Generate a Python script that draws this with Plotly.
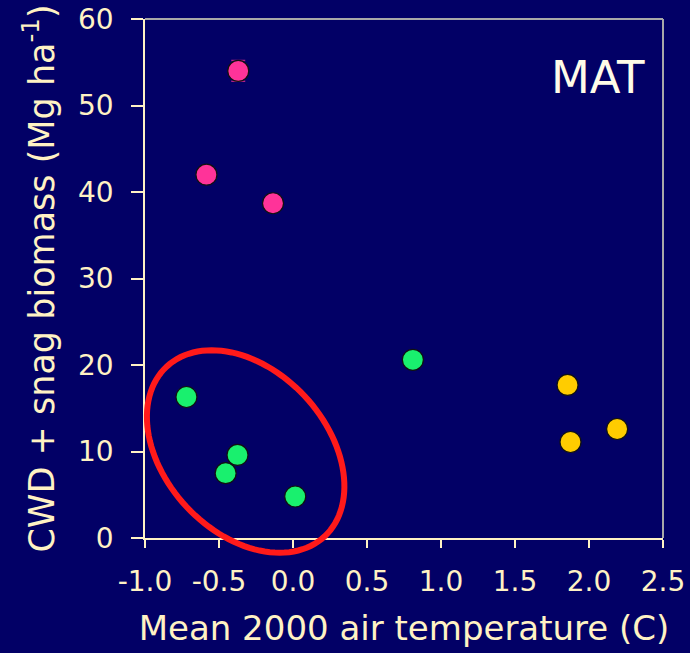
import numpy as np
import plotly.graph_objects as go

# Site groups: mean 2000 air temperature (C) vs CWD + snag biomass (Mg/ha)
pink_x = [-0.37, -0.585, -0.135]
pink_y = [54.0, 42.0, 38.7]
pink_err = [1.2, 0.0, 0.0]

green_x = [-0.72, -0.375, -0.455, 0.015, 0.81]
green_y = [16.3, 9.6, 7.5, 4.8, 20.6]

yellow_x = [1.855, 1.875, 2.19]
yellow_y = [17.7, 11.1, 12.6]

x_ticks = [-1.0, -0.5, 0.0, 0.5, 1.0, 1.5, 2.0, 2.5]
y_ticks = [0, 10, 20, 30, 40, 50, 60]

W, H = 690, 653
ML, MR, MT, MB = 144.5, 27, 19, 115
X_RANGE = [-1.0, 2.5]
Y_RANGE = [0, 60]

BG = "#020066"
CREAM = "#fff2c4"
FONT = "DejaVu Sans"

fig = go.Figure()

def add_group(xs, ys, color, err=None):
    fig.add_trace(go.Scatter(
        x=xs, y=ys, mode="markers",
        marker=dict(size=21, color=color, line=dict(color="#111111", width=1.2)),
        error_y=(dict(type="data", array=err, visible=True, color="#b0208a",
                      thickness=1.5, width=7) if err else None),
        showlegend=False,
    ))

add_group(pink_x, pink_y, "#ff3399", pink_err)
add_group(green_x, green_y, "#19f06e")
add_group(yellow_x, yellow_y, "#ffcc00")

# Tilted ellipse around the cool green sites, built in screen pixels and
# expressed in paper units so it may run past the x axis without clipping
plot_w = W - ML - MR
plot_h = H - MT - MB
cx, cy = -0.32, 10.0
cx_p = (cx - X_RANGE[0]) / (X_RANGE[1] - X_RANGE[0])
cy_p = (cy - Y_RANGE[0]) / (Y_RANGE[1] - Y_RANGE[0])
a_px, b_px, ang = 116.0, 81.0, np.deg2rad(-47)
t = np.linspace(0, 2 * np.pi, 121)
ex = a_px * np.cos(t) * np.cos(ang) - b_px * np.sin(t) * np.sin(ang)
ey = a_px * np.cos(t) * np.sin(ang) + b_px * np.sin(t) * np.cos(ang)
xs = cx_p + ex / plot_w
ys = cy_p + ey / plot_h
path = "M " + " L ".join(f"{x:.5f},{y:.5f}" for x, y in zip(xs, ys)) + " Z"
fig.add_shape(type="path", path=path, xref="paper", yref="paper",
              line=dict(color="#ff1a1a", width=6), layer="above")

# Grey frame on the top and right sides of the plot area
fig.add_shape(type="line", xref="paper", yref="paper", x0=0, x1=1, y0=1, y1=1,
              line=dict(color="#a8a8a8", width=2))
fig.add_shape(type="line", xref="paper", yref="paper", x0=1, x1=1, y0=0, y1=1,
              line=dict(color="#a8a8a8", width=2))

fig.add_annotation(text="MAT", xref="paper", yref="paper", x=0.875, y=0.887,
                   xanchor="center", yanchor="middle",
                   showarrow=False, font=dict(family=FONT, size=45, color="#fffbe8"))

fig.update_xaxes(
    range=X_RANGE, tickvals=x_ticks, ticktext=[f"{v:.1f}" for v in x_ticks],
    showline=True, linecolor=CREAM, linewidth=1.5,
    ticks="outside", ticklen=8, tickcolor=CREAM, tickwidth=1.5,
    showgrid=False, zeroline=False,
    tickfont=dict(family=FONT, size=28, color=CREAM), ticklabelstandoff=10,
    title=dict(text="Mean 2000 air temperature (C)", standoff=19,
               font=dict(family=FONT, size=34, color=CREAM)),
)
fig.update_yaxes(
    range=Y_RANGE, tickvals=y_ticks,
    showline=True, linecolor=CREAM, linewidth=1.5,
    ticks="outside", ticklen=12, tickcolor=CREAM, tickwidth=1.5,
    showgrid=False, zeroline=False,
    tickfont=dict(family=FONT, size=28, color=CREAM), ticklabelstandoff=12,
    title=dict(text="CWD + snag biomass (Mg ha<sup>-1</sup>)", standoff=13,
               font=dict(family=FONT, size=35, color=CREAM)),
)

fig.update_layout(
    width=W, height=H,
    margin=dict(l=ML, r=MR, t=MT, b=MB, autoexpand=False),
    paper_bgcolor=BG, plot_bgcolor=BG,
)

fig.write_html("out.html")
